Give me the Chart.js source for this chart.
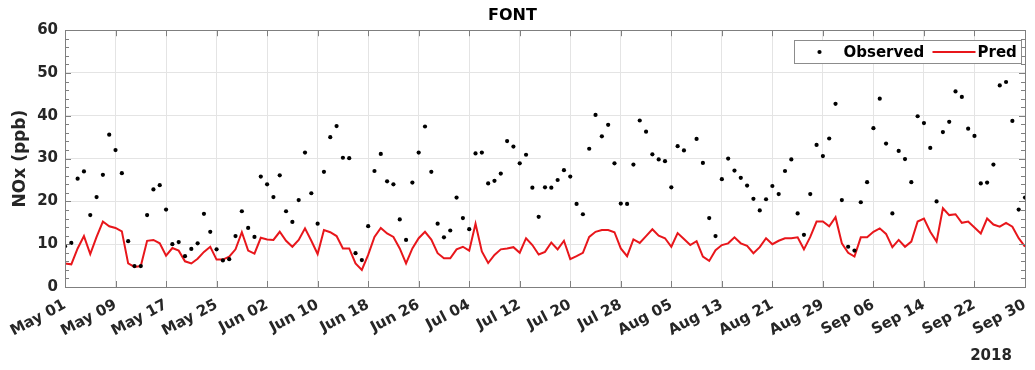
<!DOCTYPE html>
<html><head><meta charset="utf-8">
<script src="https://cdn.jsdelivr.net/npm/chart.js@4.4.1/dist/chart.umd.min.js"></script>
<style>html,body{margin:0;padding:0;background:#fff}#wrap{width:1035px;height:370px}</style>
</head><body><div id="wrap"><canvas id="c" width="1035" height="370"></canvas></div>
<script>
// Tick labels every 8 days, starting May 01 2018
const tickLabels = ['May 01','May 09','May 17','May 25','Jun 02','Jun 10','Jun 18','Jun 26','Jul 04','Jul 12','Jul 20','Jul 28','Aug 05','Aug 13','Aug 21','Aug 29','Sep 06','Sep 14','Sep 22','Sep 30'];
const yearLabel = '2018';
const titleText = 'FONT';
const yTitle = 'NOx (ppb)';
const seriesNames = ['Observed', 'Pred'];

// Daily values, May 01 .. Sep 30 2018 (153 days)
const observed = [
 9.5,10.3,25.3,27.0,16.8,21.0,26.2,35.6,32.0,26.6,
 10.7,4.9,4.9,16.8,22.8,23.8,18.1,10.0,10.5,7.2,
 8.9,10.2,17.1,12.9,8.8,6.2,6.5,11.9,17.7,13.8,
 11.7,25.8,24.0,21.0,26.1,17.7,15.2,20.3,31.4,21.9,
 14.8,26.9,35.0,37.6,30.2,30.1,7.9,6.3,14.2,27.1,
 31.1,24.7,24.0,15.8,11.0,24.4,31.4,37.5,26.9,14.8,
 11.6,13.2,20.9,16.1,13.5,31.2,31.4,24.2,24.8,26.5,
 34.1,32.8,28.9,30.9,23.2,16.4,23.3,23.2,25.0,27.3,
 25.8,19.4,17.0,32.3,40.2,35.2,37.9,28.9,19.5,19.4,
 28.6,38.9,36.3,31.0,29.8,29.4,23.3,32.9,31.9,null,
 34.6,29.0,16.1,11.9,25.2,30.0,27.2,25.5,23.7,20.6,
 17.9,20.5,23.6,21.7,27.1,29.8,17.2,12.2,21.7,33.2,
 30.6,34.7,42.8,20.3,9.4,8.5,19.8,24.5,37.1,44.0,
 33.5,17.2,31.8,29.9,24.5,39.9,38.3,32.5,20.0,36.2,
 38.6,45.7,44.4,37.0,35.3,24.2,24.4,28.6,47.1,47.9,
 38.8,18.1,20.9
];
const pred = [
 5.5,5.3,9.0,11.9,7.7,11.7,15.3,14.2,13.8,13.0,
 5.5,4.7,4.9,10.8,11.0,10.2,7.3,9.1,8.5,6.0,
 5.5,6.6,8.2,9.4,6.4,6.4,7.1,8.8,12.8,8.5,
 7.8,11.5,11.1,11.0,12.9,10.8,9.4,11.0,13.7,10.8,
 7.7,13.3,12.8,11.9,9.0,9.0,5.5,4.0,7.5,11.7,
 13.8,12.5,11.7,9.0,5.5,9.0,11.4,12.9,11.1,7.9,
 6.7,6.7,8.8,9.4,8.5,14.8,8.3,5.6,7.5,8.8,
 9.0,9.3,8.0,11.4,9.8,7.6,8.2,10.4,8.8,10.8,
 6.5,7.2,8.0,11.7,12.9,13.3,13.3,12.8,9.0,7.2,
 11.1,10.3,11.9,13.5,12.0,11.4,9.4,12.6,11.2,9.8,
 10.7,7.1,6.1,8.6,9.8,10.2,11.6,10.2,9.6,7.9,
 9.3,11.4,10.0,10.8,11.4,11.4,11.6,8.8,11.7,15.3,
 15.3,14.2,16.3,10.2,8.0,7.1,11.6,11.6,12.9,13.7,
 12.4,9.3,11.0,9.4,10.6,15.3,16.0,12.9,10.6,18.4,
 16.8,17.0,15.0,15.3,13.9,12.5,16.0,14.6,14.1,15.0,
 14.1,11.4,9.4
];

const FONT = 'DejaVu Sans';
const TXT = '#262626';
const toPts = arr => arr.map((v, i) => ({x: i, y: v}));

const framePlugin = {
  id: 'frame',
  afterDatasetsDraw(chart) {
    const {ctx, chartArea: a, scales: {x, y}} = chart;
    ctx.save();
    ctx.strokeStyle = '#7f7f7f';
    ctx.lineWidth = 1;
    ctx.beginPath();
    for (let v = y.min; v <= y.max; v += 2) {
      const py = Math.round(y.getPixelForValue(v)) + 0.5;
      const len = (v % 10 === 0) ? 6 : 4;
      ctx.moveTo(a.left, py); ctx.lineTo(a.left + len, py);
      ctx.moveTo(a.right, py); ctx.lineTo(a.right - len, py);
    }
    for (let i = 0; i < tickLabels.length; i++) {
      const px = Math.round(x.getPixelForValue(i * 8)) + 0.5;
      ctx.moveTo(px, a.bottom); ctx.lineTo(px, a.bottom - 6);
      ctx.moveTo(px, a.top); ctx.lineTo(px, a.top + 6);
    }
    ctx.stroke();
    ctx.strokeRect(Math.round(a.left) + 0.5, Math.round(a.top) + 0.5, Math.round(a.right - a.left), Math.round(a.bottom - a.top));

    // legend
    const bw = 227, bh = 23;
    const bx = Math.round(a.right - 231) + 0.5, by = Math.round(a.top + 10) + 0.5;
    ctx.fillStyle = '#fff';
    ctx.fillRect(bx, by, bw, bh);
    ctx.strokeStyle = '#8c8c8c';
    ctx.strokeRect(bx, by, bw, bh);
    const cy = by + bh / 2;
    ctx.fillStyle = '#000';
    ctx.beginPath(); ctx.arc(bx + 25, cy, 2.1, 0, Math.PI * 2); ctx.fill();
    ctx.font = 'bold 15px "' + FONT + '"';
    ctx.textBaseline = 'middle';
    ctx.textAlign = 'left';
    ctx.fillText(seriesNames[0], bx + 49, cy + 1);
    ctx.strokeStyle = chart.data.datasets[1].borderColor;
    ctx.lineWidth = 2;
    ctx.beginPath(); ctx.moveTo(bx + 138, cy); ctx.lineTo(bx + 181, cy); ctx.stroke();
    ctx.fillText(seriesNames[1], bx + 183, cy + 1);

    // year label
    ctx.fillStyle = TXT;
    ctx.textAlign = 'center';
    ctx.fillText(yearLabel, a.right - 34, 356);
    ctx.restore();
  }
};

new Chart(document.getElementById('c'), {
  type: 'line',
  data: {
    datasets: [
      {label: seriesNames[0], data: toPts(observed), showLine: false, pointRadius: 2.1, pointBorderWidth: 0,
       pointBackgroundColor: '#000', borderColor: '#000', backgroundColor: '#000', spanGaps: false},
      {label: seriesNames[1], data: toPts(pred), borderColor: '#e8161b', borderWidth: 2, pointRadius: 0, tension: 0, fill: false}
    ]
  },
  options: {
    responsive: false, animation: false, devicePixelRatio: 1,
    layout: {padding: {left: 0, right: 10, top: 0, bottom: 0}},
    plugins: {
      legend: {display: false},
      tooltip: {enabled: false},
      title: {display: true, text: titleText, color: '#000', font: {family: FONT, size: 16, weight: 'bold'}, padding: {top: 6, bottom: 5}}
    },
    scales: {
      x: {
        type: 'linear', min: 0, max: (tickLabels.length - 1) * 8,
        ticks: {stepSize: 8, autoSkip: false, maxRotation: 28, minRotation: 28, padding: 9, color: TXT,
                font: {family: FONT, size: 15, weight: 'bold'},
                callback: v => tickLabels[Math.round(v / 8)]},
        grid: {color: '#e4e4e4', drawTicks: false},
        border: {display: false},
        afterFit: s => { s.height = 83; s.paddingRight = 0; s.paddingLeft = 0; }
      },
      y: {
        min: 0, max: 60,
        ticks: {stepSize: 10, padding: 7, color: TXT, font: {family: FONT, size: 15, weight: 'bold'}},
        grid: {color: '#e4e4e4', drawTicks: false},
        border: {display: false},
        title: {display: true, text: yTitle, color: TXT, font: {family: FONT, size: 17, weight: 'bold'}, padding: {top: 10, bottom: 0}},
        afterFit: s => { s.width = 65; }
      }
    }
  },
  plugins: [framePlugin]
});
</script></body></html>
